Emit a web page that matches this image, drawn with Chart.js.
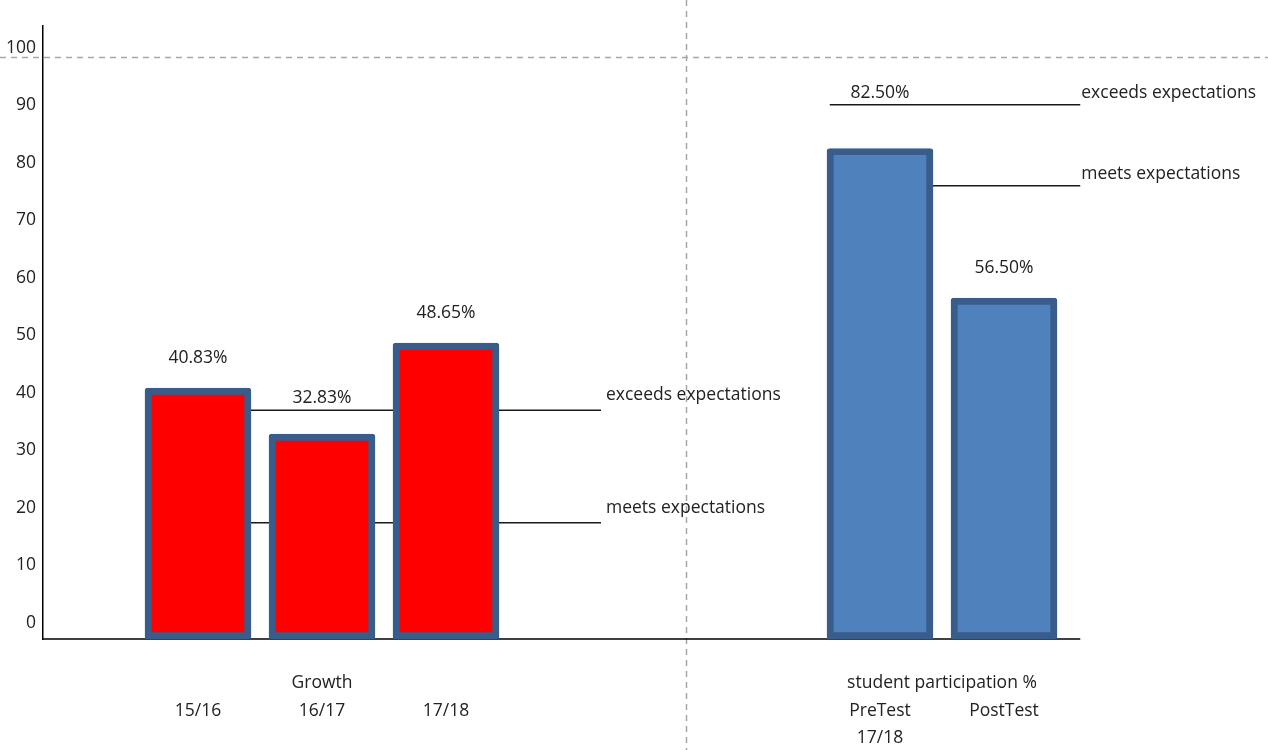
<!DOCTYPE html>
<html>
<head>
<meta charset="utf-8">
<script src="https://cdn.jsdelivr.net/npm/chart.js@4.4.1/dist/chart.umd.min.js"></script>
<style>
  html, body { margin: 0; padding: 0; background: #ffffff; }
  #wrap { width: 1268px; height: 750px; position: relative; }
</style>
</head>
<body>
<div id="wrap"><canvas id="chart"></canvas></div>
<script>
// ---- values ----
const growthCategories = ['15/16', '16/17', '17/18'];
const growthValues = [40.83, 32.83, 48.65];
const participationCategories = [['PreTest', '17/18'], 'PostTest'];
const participationValues = [82.50, 56.50];
const groupTitles = ['Growth', 'student participation %'];
const thresholdNames = ['exceeds expectations', 'meets expectations'];
const growthThresholds = [37.0, 17.4];
const participationThresholds = [90.1, 76.0];
const yTickValues = [0, 10, 20, 30, 40, 50, 60, 70, 80, 90, 100];

// ---- layout of the category slots ----
const SLOT_COUNT = 17;
const growthSlots = [2, 4, 6];
const participationSlots = [13, 15];
const growthLineSpan = [2, 8.5];
const participationLineSpan = [12.19, 16.23];
const dividerSlot = 9.87;
const frameLineValue = 98.4;
const Y_MIN = -2.8, Y_MAX = 103.8;

const FONT = "'Open Sans', 'DejaVu Sans', sans-serif";
const FONT_SIZE = 17.5;
const TEXT = '#222222';

const labels = new Array(SLOT_COUNT).fill('');
growthSlots.forEach((s, i) => { labels[s] = growthCategories[i]; });
participationSlots.forEach((s, i) => { labels[s] = participationCategories[i]; });

function spread(slots, values) {
  const out = new Array(SLOT_COUNT).fill(null);
  slots.forEach((s, i) => { out[s] = values[i]; });
  return out;
}

const barStyle = {
  borderColor: '#385D8A',
  borderWidth: 7,
  borderRadius: 3,
  borderSkipped: false,
  barThickness: 106,
  grouped: false,
  base: Y_MIN
};

const groups = [
  { datasetIndex: 0, slots: growthSlots, span: growthLineSpan, lines: growthThresholds, title: groupTitles[0], labelLift: 15, gap: 5 },
  { datasetIndex: 1, slots: participationSlots, span: participationLineSpan, lines: participationThresholds, title: groupTitles[1], labelLift: 12, gap: 1 }
];

const overlay = {
  id: 'overlay',
  beforeDatasetsDraw(chart) {
    const { ctx, chartArea, scales: { x, y } } = chart;
    ctx.save();
    // dashed frame lines
    ctx.strokeStyle = '#A6A6A6';
    ctx.lineWidth = 1.5;
    ctx.setLineDash([6, 5]);
    const dx = Math.round(x.getPixelForValue(dividerSlot)) + 0.5;
    ctx.beginPath(); ctx.moveTo(dx, 0); ctx.lineTo(dx, chart.height); ctx.stroke();
    const fy = Math.round(y.getPixelForValue(frameLineValue)) + 0.5;
    ctx.beginPath(); ctx.moveTo(0, fy); ctx.lineTo(chart.width, fy); ctx.stroke();
    ctx.setLineDash([]);

    // threshold lines with their names
    ctx.strokeStyle = '#1a1a1a';
    ctx.lineWidth = 1.5;
    ctx.fillStyle = TEXT;
    ctx.font = FONT_SIZE + 'px ' + FONT;
    ctx.textAlign = 'left';
    ctx.textBaseline = 'middle';
    groups.forEach(g => {
      const x0 = x.getPixelForValue(g.span[0]);
      const x1 = x.getPixelForValue(g.span[1]);
      g.lines.forEach((v, i) => {
        const py = y.getPixelForValue(v);
        ctx.beginPath(); ctx.moveTo(x0, py); ctx.lineTo(x1, py); ctx.stroke();
        ctx.fillText(thresholdNames[i], x1 + g.gap, py - g.labelLift);
      });
    });

    // value axis baseline
    const by = chartArea.bottom;
    ctx.strokeStyle = '#000000';
    ctx.beginPath();
    ctx.moveTo(chartArea.left, by);
    ctx.lineTo(x.getPixelForValue(participationLineSpan[1]), by);
    ctx.stroke();
    ctx.restore();
  },
  afterDatasetsDraw(chart) {
    const { ctx, chartArea, scales: { x, y } } = chart;
    ctx.save();
    ctx.fillStyle = TEXT;
    ctx.font = FONT_SIZE + 'px ' + FONT;
    ctx.textAlign = 'center';
    ctx.textBaseline = 'middle';
    groups.forEach(g => {
      const meta = chart.getDatasetMeta(g.datasetIndex);
      const ds = chart.data.datasets[g.datasetIndex];
      const x0 = x.getPixelForValue(g.span[0]);
      const x1 = x.getPixelForValue(g.span[1]);
      meta.data.forEach((el, j) => {
        const v = ds.data[j];
        if (v === null || v === undefined) return;
        const top = el.y;
        let ly = top - 30;
        g.lines.forEach(t => {
          const py = y.getPixelForValue(t);
          if (py < top && py > top - 50 && el.x >= x0 && el.x <= x1) ly = Math.min(ly, py - 12);
        });
        ctx.fillText(v.toFixed(2) + '%', el.x, ly);
      });
      // group title above the category labels
      const cx = (x.getPixelForValue(g.slots[0]) + x.getPixelForValue(g.slots[g.slots.length - 1])) / 2;
      ctx.fillText(g.title, cx, chartArea.bottom + 44);
    });
    ctx.restore();
  }
};

Chart.defaults.font.family = FONT;

new Chart(document.getElementById('chart'), {
  type: 'bar',
  data: {
    labels: labels,
    datasets: [
      Object.assign({ label: 'Growth', data: spread(growthSlots, growthValues), backgroundColor: '#FF0000' }, barStyle),
      Object.assign({ label: 'student participation %', data: spread(participationSlots, participationValues), backgroundColor: '#4F81BD' }, barStyle)
    ]
  },
  options: {
    responsive: true,
    maintainAspectRatio: false,
    animation: false,
    layout: { padding: { top: 26, right: 171, bottom: 0, left: 0 } },
    plugins: { legend: { display: false }, tooltip: { enabled: false } },
    scales: {
      x: {
        type: 'category',
        offset: true,
        grid: { display: false, drawTicks: false },
        border: { display: false },
        ticks: {
          autoSkip: false, maxRotation: 0, minRotation: 0, padding: 58, color: TEXT,
          font: { family: FONT, size: FONT_SIZE, lineHeight: 1.55 }
        },
        afterFit(s) { s.height = 111; }
      },
      y: {
        min: Y_MIN,
        max: Y_MAX,
        grid: { display: false, drawTicks: false },
        border: { display: true, color: '#000000', width: 1.5 },
        ticks: { padding: 7, color: TEXT, font: { family: FONT, size: FONT_SIZE } },
        afterBuildTicks(s) { s.ticks = yTickValues.map(v => ({ value: v })); },
        afterFit(s) { s.width = 43; }
      }
    }
  },
  plugins: [overlay]
});
</script>
</body>
</html>
